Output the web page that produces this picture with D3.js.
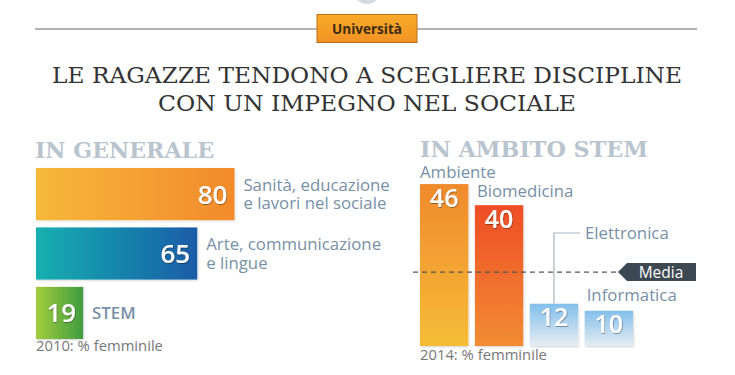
<!DOCTYPE html>
<html><head><meta charset="utf-8">
<script src="https://cdn.jsdelivr.net/npm/d3@7"></script>
<style>html,body{margin:0;padding:0;background:#fff;}svg{display:block;}</style>
</head><body>
<script>
// ---- data ----
const generalCategories = ["Sanità, educazione|e lavori nel sociale", "Arte, communicazione|e lingue", "STEM"];
const generalValues = [80, 65, 19];
const stemCategories = ["Ambiente", "Biomedicina", "Elettronica", "Informatica"];
const stemValues = [46, 40, 12, 10];
const stemMedia = 21;
const titleLines = ["LE RAGAZZE TENDONO A SCEGLIERE DISCIPLINE", "CON UN IMPEGNO NEL SOCIALE"];

const W = 735, H = 375;
const svg = d3.select("body").append("svg").attr("width", W).attr("height", H);
const defs = svg.append("defs");

function grad(id, c1, c2, vertical) {
  const g = defs.append("linearGradient").attr("id", id)
    .attr("x1", 0).attr("y1", 0).attr("x2", vertical ? 0 : 1).attr("y2", vertical ? 1 : 0);
  g.append("stop").attr("offset", "0%").attr("stop-color", c1);
  g.append("stop").attr("offset", "100%").attr("stop-color", c2);
}
grad("gBadge", "#f8ab28", "#f39224", true);
grad("gL0", "#f6b83a", "#f38a2b");
grad("gL1", "#17b0b0", "#1a5ca8");
grad("gL2", "#a2cd3c", "#3f9c40");
grad("gR0", "#f08a2c", "#f6bc36", true);
grad("gR1", "#ee4d26", "#f28c33", true);
grad("gR2", "#82bfea", "#e6edf3", true);
grad("gR3", "#82bfea", "#e6edf3", true);

const shadow = defs.append("filter").attr("id", "ts").attr("x", "-20%").attr("y", "-20%").attr("width", "140%").attr("height", "140%");
shadow.append("feDropShadow").attr("dx", 0.6).attr("dy", 0.8).attr("stdDeviation", 0.6).attr("flood-color", "#000").attr("flood-opacity", 0.45);
const bshadow = defs.append("filter").attr("id", "bs").attr("x", "-10%").attr("y", "-10%").attr("width", "120%").attr("height", "120%");
bshadow.append("feDropShadow").attr("dx", 0.8).attr("dy", 1).attr("stdDeviation", 0.8).attr("flood-color", "#000").attr("flood-opacity", 0.18);

// ---- header ----
svg.append("circle").attr("cx", 367).attr("cy", -9).attr("r", 13).attr("fill", "#cfdce5");
svg.append("line").attr("x1", 35).attr("x2", 697).attr("y1", 29).attr("y2", 29).attr("stroke", "#9a9a9a").attr("stroke-width", 1.5);
svg.append("rect").attr("x", 317).attr("y", 14.5).attr("width", 100).attr("height", 28)
  .attr("fill", "url(#gBadge)").attr("stroke", "#b9701c").attr("stroke-width", 1);
svg.append("text").attr("x", 367).attr("y", 33.5).attr("text-anchor", "middle")
  .attr("font-family", "'Open Sans', sans-serif").attr("font-weight", 700).attr("font-size", 13.5)
  .attr("fill", "#3b2b12").text("Università");

svg.selectAll("text.title").data(titleLines).join("text").attr("class", "title")
  .attr("x", 367).attr("y", (d, i) => 83 + i * 28).attr("text-anchor", "middle")
  .attr("font-family", "'DejaVu Serif', serif").attr("font-size", 23).attr("fill", "#333")
  .attr("textLength", (d, i) => i === 0 ? 630 : 418).attr("lengthAdjust", "spacingAndGlyphs")
  .text(d => d);

// section titles
svg.append("text").attr("x", 35).attr("y", 158).attr("font-family", "'DejaVu Serif', serif")
  .attr("font-weight", 700).attr("font-size", 22).attr("fill", "#b8c4ce")
  .attr("textLength", 179).attr("lengthAdjust", "spacingAndGlyphs").text("IN GENERALE");
svg.append("text").attr("x", 420).attr("y", 157).attr("font-family", "'DejaVu Serif', serif")
  .attr("font-weight", 700).attr("font-size", 21.5).attr("fill", "#b8c4ce")
  .attr("textLength", 228).attr("lengthAdjust", "spacingAndGlyphs").text("IN AMBITO STEM");

const labelColor = "#7790a6";
const sans = "'Open Sans', sans-serif";
const LFS = 16.8;

// ---- left chart ----
const xL = d3.scaleLinear().domain([0, 100]).range([36, 36 + 248]);
const yL = d3.scaleBand().domain(d3.range(generalValues.length)).range([168, 339]).paddingInner(0.123).paddingOuter(0);
const left = svg.append("g");
left.selectAll("rect").data(generalValues).join("rect")
  .attr("x", xL(0)).attr("y", (d, i) => yL(i)).attr("width", d => xL(d) - xL(0)).attr("height", yL.bandwidth())
  .attr("fill", (d, i) => `url(#gL${i})`).attr("filter", "url(#bs)");
left.selectAll("text.val").data(generalValues).join("text").attr("class", "val")
  .attr("x", d => xL(d) - 7).attr("y", (d, i) => yL(i) + yL.bandwidth() / 2 + 9.5)
  .attr("text-anchor", "end").attr("font-family", sans).attr("font-weight", 600).attr("font-size", 26)
  .attr("fill", "#fff").attr("filter", "url(#ts)").text(d => d);
generalCategories.forEach((c, i) => {
  const lines = c.split("|");
  const cy = yL(i) + yL.bandwidth() / 2;
  lines.forEach((l, j) => {
    left.append("text").attr("font-family", sans).attr("font-size", LFS).attr("fill", labelColor)
      .attr("font-weight", lines.length === 1 ? 600 : 400)
      .attr("x", xL(generalValues[i]) + 9)
      .attr("y", cy + 6 + (j - (lines.length - 1) / 2) * 18.5).text(l);
  });
});
left.append("text").attr("x", 36).attr("y", 351).attr("font-family", sans).attr("font-size", 14.8)
  .attr("fill", "#777").text("2010: % femminile");

// ---- right chart ----
const xR = d3.scaleBand().domain(stemCategories).range([420, 633]).paddingInner(0.12).paddingOuter(0);
const yR = d3.scaleLinear().domain([0, 50]).range([346, 346 - 176]);
const right = svg.append("g");
right.selectAll("rect").data(stemValues).join("rect")
  .attr("x", (d, i) => xR(stemCategories[i])).attr("y", d => yR(d))
  .attr("width", xR.bandwidth()).attr("height", d => yR(0) - yR(d))
  .attr("fill", (d, i) => `url(#gR${i})`).attr("filter", "url(#bs)");
right.selectAll("text.val").data(stemValues).join("text").attr("class", "val")
  .attr("x", (d, i) => xR(stemCategories[i]) + xR.bandwidth() / 2)
  .attr("y", d => d > 20 ? yR(d) + 23 : yR(d) + 22)
  .attr("text-anchor", "middle").attr("font-family", sans).attr("font-weight", 600).attr("font-size", 25)
  .attr("fill", "#fff").attr("filter", "url(#ts)").text(d => d);

// category labels
const lab = (x, y, t) => right.append("text").attr("x", x).attr("y", y).attr("font-family", sans)
  .attr("font-size", LFS).attr("fill", labelColor).text(t);
lab(xR("Ambiente"), yR(stemValues[0]) - 6, "Ambiente");
lab(xR("Biomedicina") + 2, yR(stemValues[1]) - 8, "Biomedicina");
lab(xR("Informatica") + 2, yR(stemValues[3]) - 10, "Informatica");
const exC = xR("Elettronica") + xR.bandwidth() / 2;
right.append("path").attr("d", `M${exC},${yR(stemValues[2])}V233H${exC + 26}`)
  .attr("fill", "none").attr("stroke", "#a9b5bf").attr("stroke-width", 1.2);
lab(exC + 31, 239, "Elettronica");

// media line
const my = yR(stemMedia);
right.append("line").attr("x1", 413).attr("x2", 618).attr("y1", my).attr("y2", my)
  .attr("stroke", "#555").attr("stroke-width", 1.3).attr("stroke-dasharray", "5,4");
right.append("path").attr("d", `M618,${my}L627,${my - 9}H696V${my + 9}H627Z`).attr("fill", "#3c4952");
right.append("text").attr("x", 661).attr("y", my + 5.5).attr("text-anchor", "middle").attr("font-family", sans)
  .attr("font-size", 15.5).attr("fill", "#fff").text("Media");

right.append("text").attr("x", 420).attr("y", 360).attr("font-family", sans).attr("font-size", 14.8)
  .attr("fill", "#777").text("2014: % femminile");
</script>
</body></html>
